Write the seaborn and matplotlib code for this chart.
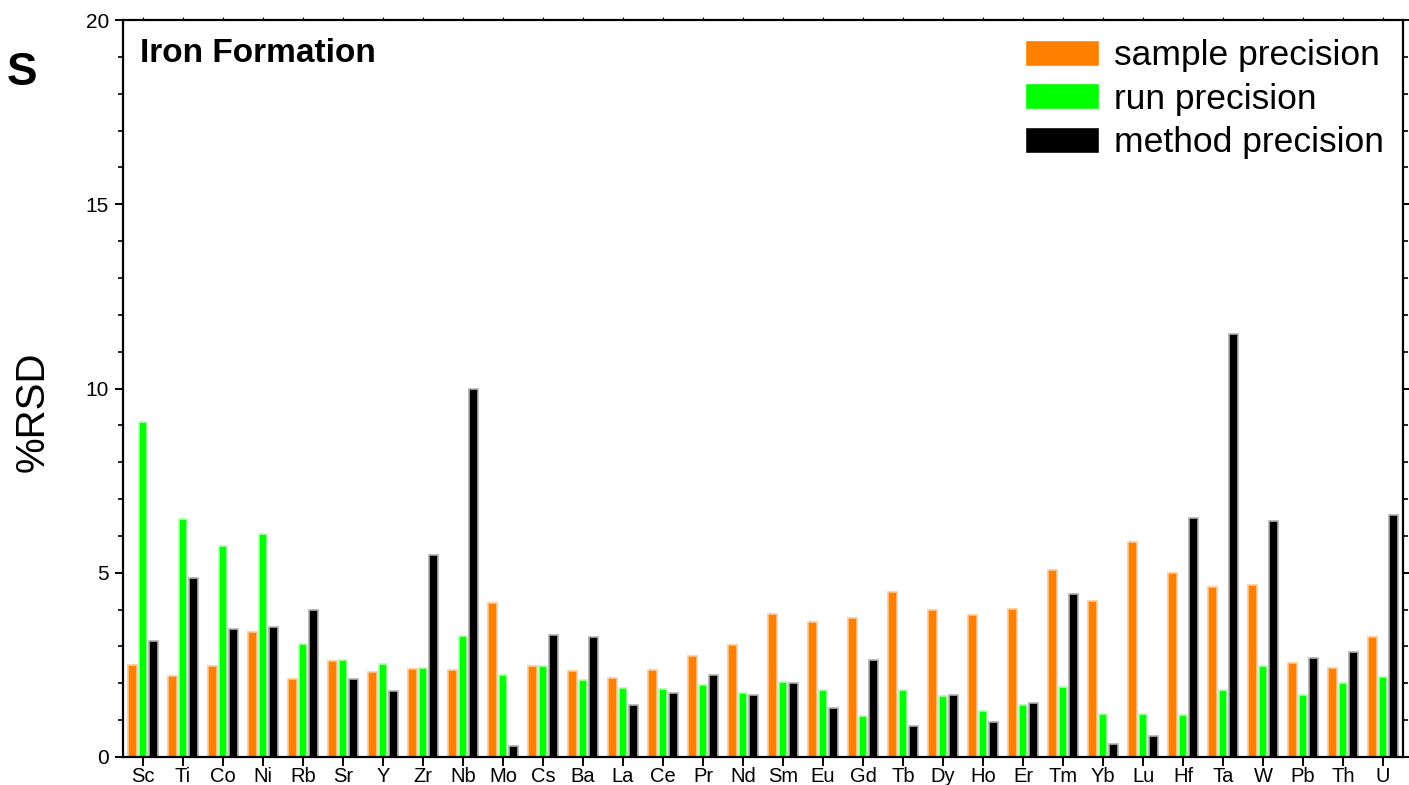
import numpy as np
import pandas as pd
import matplotlib
matplotlib.use("Agg")
import matplotlib.pyplot as plt
import seaborn as sns
from matplotlib.ticker import MultipleLocator

elements = ["Sc", "Ti", "Co", "Ni", "Rb", "Sr", "Y", "Zr", "Nb", "Mo", "Cs", "Ba",
            "La", "Ce", "Pr", "Nd", "Sm", "Eu", "Gd", "Tb", "Dy", "Ho", "Er", "Tm",
            "Yb", "Lu", "Hf", "Ta", "W", "Pb", "Th", "U"]
sample_precision = [2.51, 2.20, 2.48, 3.39, 2.12, 2.60, 2.30, 2.40, 2.37, 4.18, 2.46, 2.33,
                    2.14, 2.36, 2.73, 3.03, 3.87, 3.65, 3.77, 4.48, 4.00, 3.84, 4.01, 5.08,
                    4.24, 5.84, 4.99, 4.62, 4.66, 2.56, 2.42, 3.26]
run_precision = [9.10, 6.46, 5.72, 6.04, 3.06, 2.64, 2.52, 2.42, 3.29, 2.23, 2.47, 2.10,
                 1.86, 1.84, 1.96, 1.74, 2.04, 1.82, 1.11, 1.82, 1.66, 1.26, 1.40, 1.90,
                 1.17, 1.17, 1.14, 1.82, 2.47, 1.69, 2.00, 2.17]
method_precision = [3.14, 4.86, 3.48, 3.53, 4.00, 2.11, 1.80, 5.48, 10.00, 0.30, 3.30, 3.26,
                    1.40, 1.75, 2.22, 1.67, 2.01, 1.34, 2.64, 0.85, 1.69, 0.94, 1.47, 4.42,
                    0.36, 0.57, 6.49, 11.48, 6.41, 2.68, 2.86, 6.56]
series_names = ["sample precision", "run precision", "method precision"]
series_colors = ["#ff8000", "#00ff00", "#000000"]
edge_colors = ["#ffc890", "#b0ffb0", "#b0b0b0"]

df = pd.DataFrame({
    "element": elements * 3,
    "precision": sample_precision + run_precision + method_precision,
    "series": [series_names[0]] * len(elements) + [series_names[1]] * len(elements)
              + [series_names[2]] * len(elements),
})

sns.set_style("ticks")
plt.rcParams["font.family"] = ["Liberation Sans", "DejaVu Sans"]
plt.rcParams["text.color"] = "black"
plt.rcParams["xtick.color"] = "black"
plt.rcParams["ytick.color"] = "black"
plt.rcParams["xtick.labelcolor"] = "black"
plt.rcParams["ytick.labelcolor"] = "black"

fig = plt.figure(figsize=(14.09, 7.85), dpi=100)
ax = fig.add_axes([123 / 1409, 28 / 785, 1280 / 1409, 737 / 785])

sns.barplot(data=df, x="element", y="precision", hue="series", order=elements,
            hue_order=series_names, palette=dict(zip(series_names, series_colors)),
            errorbar=None, width=0.8, gap=0.17, ax=ax, saturation=1)

# pale halo edge on bars
for cont, ec in zip(ax.containers, edge_colors):
    for p in cont:
        p.set_edgecolor(ec)
        p.set_linewidth(1.2)

ax.set_xlim(-0.5, len(elements) - 0.5)
ax.set_ylim(0, 20)
ax.set_xlabel("")
ax.set_ylabel("")

for s in ax.spines.values():
    s.set_visible(True)
    s.set_linewidth(1.6)
    s.set_color("black")

ax.yaxis.set_major_locator(MultipleLocator(5))
ax.yaxis.set_minor_locator(MultipleLocator(1))
ax.tick_params(axis="y", which="major", direction="out", length=6, width=1.4,
               labelsize=15, left=True, right=True, pad=4, colors="black")
ax.tick_params(axis="y", which="minor", direction="out", length=3.5, width=1.2,
               left=True, right=True, colors="black")
ax.tick_params(axis="x", which="major", direction="out", length=6.5, width=1.4,
               labelsize=14.5, bottom=True, top=True, pad=0.5, colors="black")
for t in ax.xaxis.get_major_ticks():
    t.tick2line.set_markersize(2.5)
    t.tick2line.set_color("#b0b0b0")
    t.tick2line.set_markeredgewidth(0.8)

leg = ax.get_legend()
handles = leg.legend_handles
labels = [t.get_text() for t in leg.get_texts()]
leg.remove()
ax.legend(handles, labels, loc="upper right", frameon=False, fontsize=25.5,
          handlelength=2.08, handleheight=0.76, handletextpad=0.42,
          labelspacing=0.29, borderaxespad=0.35, borderpad=0.2)

ax.text(0.013, 0.975, "Iron Formation", transform=ax.transAxes, fontsize=24,
        fontweight="bold", ha="left", va="top", color="black")

fig.text(33 / 1409, 1 - 412 / 785, "%RSD", rotation=90, fontsize=29,
         ha="center", va="center", color="black")
fig.text(22 / 1409, 1 - 73 / 785, "S", fontsize=33, fontweight="bold",
         ha="center", va="center", color="black")

fig.savefig("out.png", dpi=100)
